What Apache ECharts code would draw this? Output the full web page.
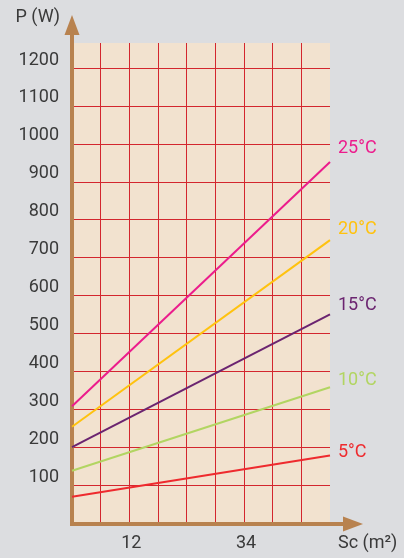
<!DOCTYPE html>
<html>
<head>
<meta charset="utf-8">
<script src="https://cdn.jsdelivr.net/npm/echarts@6/dist/echarts.min.js"></script>
<style>
  html, body { margin: 0; padding: 0; background: #dcdde0; }
  #chart { width: 404px; height: 558px; }
</style>
</head>
<body>
<div id="chart"></div>
<script>
// ---- data ----
var xValues = [0, 9];
var p5 = [69, 178];
var p10 = [138, 358];
var p15 = [200, 550];
var p20 = [254, 746];
var p25 = [308, 952];
var seriesNames = ['5°C', '10°C', '15°C', '20°C', '25°C'];
var xTickLabels = ['', '', '12', '', '', '', '34', '', '', ''];
var yAxisName = 'P (W)';
var xAxisName = 'Sc (m²)';

// ---- styles ----
var colors = ['#ee2a2e', '#b2d562', '#6b2470', '#ffc20e', '#ec1c8c'];
var labelDy = [-3, -7, -9, -11, -14];
var values = [p5, p10, p15, p20, p25];
var brown = '#b8824f';
var gridRed = '#d3262e';
var textColor = '#3a3a3a';
var font = 'Roboto';
var fs = 18;

function pairs(ys) {
  return ys.map(function (v, i) { return [xValues[i], v]; });
}

var series = values.map(function (ys, i) {
  return {
    name: seriesNames[i],
    type: 'line',
    xAxisIndex: 0,
    yAxisIndex: 0,
    data: pairs(ys),
    showSymbol: false,
    symbol: 'none',
    lineStyle: { color: colors[i], width: 2 },
    itemStyle: { color: colors[i] },
    endLabel: {
      show: true,
      formatter: seriesNames[i],
      color: colors[i],
      fontFamily: font,
      fontSize: fs,
      distance: 8,
      offset: [0, labelDy[i]]
    },
    z: 3
  };
});

var chart = echarts.init(document.getElementById('chart'), null, { renderer: 'canvas' });
chart.setOption({
  animation: false,
  backgroundColor: '#dcdde0',
  grid: [
    { left: 72, top: 43, width: 258, bottom: 35, show: true, backgroundColor: '#f2e2cf', borderWidth: 0 },
    { left: 72, top: 25, right: 51, bottom: 34, show: false }
  ],
  xAxis: [
    {
      gridIndex: 0, type: 'value', min: 0, max: 9, interval: 1,
      axisLine: { show: false }, axisTick: { show: false },
      splitLine: { show: true, showMinLine: false, showMaxLine: false, lineStyle: { color: gridRed, width: 1 } },
      axisLabel: {
        color: textColor, fontFamily: font, fontSize: fs, margin: 11,
        padding: [0, 0, 0, 4],
        formatter: function (v) { return xTickLabels[Math.round(v)] || ''; }
      },
      name: xAxisName, nameLocation: 'end', nameGap: 8,
      nameTextStyle: { color: textColor, fontFamily: font, fontSize: fs, align: 'left', verticalAlign: 'top', padding: [11, 0, 0, 0] }
    },
    {
      gridIndex: 1, type: 'value', min: 0, max: 1,
      axisLine: { show: true, symbol: ['none', 'triangle'], symbolSize: [15, 20], lineStyle: { color: brown, width: 4, cap: 'square' } },
      axisTick: { show: false }, axisLabel: { show: false }, splitLine: { show: false }
    }
  ],
  yAxis: [
    {
      gridIndex: 0, type: 'value', min: 0, max: 1266, interval: 100,
      axisLine: { show: false }, axisTick: { show: false },
      splitLine: { show: true, showMinLine: false, showMaxLine: false, lineStyle: { color: gridRed, width: 1 } },
      axisLabel: {
        color: textColor, fontFamily: font, fontSize: fs, margin: 13,
        showMinLabel: false, showMaxLabel: false,
        verticalAlign: 'bottom', lineHeight: 16,
        formatter: function (v) { return String(v); }
      },
      name: yAxisName, nameLocation: 'end', nameGap: 26,
      nameTextStyle: { color: textColor, fontFamily: font, fontSize: fs, align: 'right', verticalAlign: 'middle', padding: [0, 12, 0, 0] }
    },
    {
      gridIndex: 1, type: 'value', min: 0, max: 1,
      axisLine: { show: true, symbol: ['none', 'triangle'], symbolSize: [15, 20], lineStyle: { color: brown, width: 4, cap: 'square' } },
      axisTick: { show: false }, axisLabel: { show: false }, splitLine: { show: false }
    }
  ],
  series: series
});
</script>
</body>
</html>
